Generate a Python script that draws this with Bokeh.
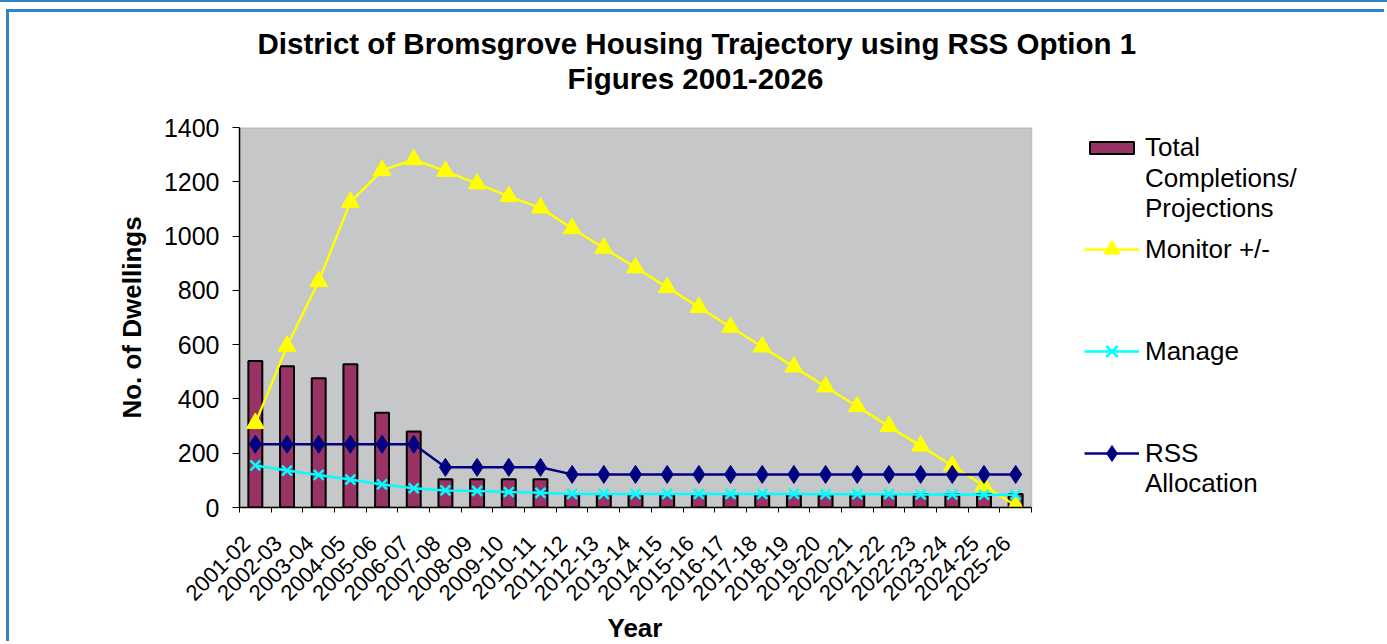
import math
from bokeh.plotting import figure
from bokeh.models import (FixedTicker, Legend, LegendItem, Title, Div, Range1d,
                          BoxAnnotation)
from bokeh.layouts import column
from bokeh.embed import file_html
from bokeh.resources import INLINE

categories = ["2001-02", "2002-03", "2003-04", "2004-05", "2005-06", "2006-07",
              "2007-08", "2008-09", "2009-10", "2010-11", "2011-12", "2012-13",
              "2013-14", "2014-15", "2015-16", "2016-17", "2017-18", "2018-19",
              "2019-20", "2020-21", "2021-22", "2022-23", "2023-24", "2024-25",
              "2025-26"]
completions = [540, 520, 476, 528, 349, 280, 104, 104, 104, 104, 50, 50, 50,
               50, 50, 50, 50, 50, 50, 50, 50, 50, 50, 50, 50]
monitor = [310, 595, 833, 1125, 1242, 1282, 1239, 1193, 1146, 1104, 1028, 956,
           884, 811, 738, 665, 592, 518, 445, 372, 299, 227, 154, 80, 7]
manage = [155, 136, 120, 103, 85, 71, 63, 61, 57, 54, 50, 50, 50, 50, 50, 50,
          50, 50, 49, 49, 49, 48, 48, 47, 47]
rss = [233, 233, 233, 233, 233, 233, 148, 148, 148, 148, 122, 122, 122, 122,
       122, 122, 122, 122, 122, 122, 122, 122, 122, 122, 122]
y_ticks = [0, 200, 400, 600, 800, 1000, 1200, 1400]
Y_MAX = 1400

FONT = "Liberation Sans"
n = len(categories)
xs = [i + 0.5 for i in range(n)]
LABEL_SHIFT = 0.28   # rotated labels end just left of the category centre
label_pos = [x - LABEL_SHIFT for x in xs]

FIG_W, FIG_H = 1378, 632
BORDER_LEFT = 230
PLOT_W = 792          # width of the grey plotting area
FRAME_W = FIG_W - BORDER_LEFT
x_end = n * FRAME_W / PLOT_W   # frame extends right so the legend can live in it

p = figure(width=FIG_W, height=FIG_H, output_backend="svg", toolbar_location=None,
           x_range=Range1d(0, x_end), y_range=Range1d(0, Y_MAX),
           min_border_left=BORDER_LEFT, min_border_right=0, min_border_top=115,
           min_border_bottom=137, background_fill_color="white",
           border_fill_color="white", title=None,
           margin=(7, 0, 0, 6),
           styles={"border-top": "3px solid #2E86C8", "border-left": "3px solid #2E86C8"})

p.xgrid.visible = False
p.ygrid.visible = False
p.outline_line_color = None

plot_area = BoxAnnotation(left=0, right=n, bottom=0, top=Y_MAX,
                          fill_color="#C6C7C8", fill_alpha=1,
                          line_color="#808080", line_width=2, level="underlay")
p.add_layout(plot_area)

bars = p.vbar(x=xs, top=completions, width=0.44, fill_color="#993366",
              line_color="black", line_width=2)
l_mon = p.line(xs, monitor, line_color="#FFFF00", line_width=2.5)
m_mon = p.scatter(xs, monitor, marker="triangle", size=18, fill_color="#FFFF00",
                  line_color="#FFFF00")
l_man = p.line(xs, manage, line_color="#00FFFF", line_width=2.5)
m_man = p.scatter(xs, manage, marker="x", size=14, line_color="#00FFFF", line_width=2.5)
l_rss = p.line(xs, rss, line_color="#000080", line_width=2.5)
m_rss = p.scatter(xs, rss, marker="diamond", size=18, fill_color="#000080",
                  line_color="#000080")

# x axis
xa = p.xaxis[0]
xa.bounds = (0, n)
xa.ticker = FixedTicker(ticks=label_pos, minor_ticks=list(range(n + 1)))
xa.major_label_overrides = {x: c for x, c in zip(label_pos, categories)}
xa.major_tick_out = 0
xa.major_tick_in = 0
xa.minor_tick_out = 5
xa.minor_tick_in = 0
xa.minor_tick_line_color = "black"
xa.major_label_orientation = math.pi / 4
xa.major_label_text_font = FONT
xa.major_label_text_font_size = "22px"
xa.major_label_text_color = "black"
xa.major_label_standoff = 27
xa.axis_line_color = "black"
xa.axis_line_width = 1.5

ya = p.yaxis[0]
ya.ticker = FixedTicker(ticks=y_ticks)
ya.major_tick_out = 7
ya.major_tick_in = 0
ya.minor_tick_out = 0
ya.minor_tick_in = 0
ya.major_tick_line_color = "black"
ya.major_label_text_font = FONT
ya.major_label_text_font_size = "25px"
ya.major_label_text_color = "black"
ya.major_label_standoff = 13
ya.axis_line_color = "black"
ya.axis_line_width = 1.5
ya.axis_label = "No. of Dwellings"
ya.axis_label_text_font = FONT
ya.axis_label_text_font_size = "26px"
ya.axis_label_text_font_style = "bold"
ya.axis_label_text_color = "black"
ya.axis_label_standoff = 14

# x-axis title placed under the grey plotting area
x_title = Title(text="Year", align="left", offset=368, text_font=FONT,
                text_font_size="26px", text_font_style="bold",
                text_color="black", standoff=0)
p.add_layout(x_title, "below")

# titles: spacer nearest the plot, then line 2, then line 1
spacer = Title(text=" ", text_font_size="2px", standoff=29)
t2 = Title(text="Figures 2001-2026", align="left", offset=328,
           text_font=FONT, text_font_size="29.5px", text_font_style="bold",
           text_color="black", standoff=0)
t1 = Title(text="District of Bromsgrove Housing Trajectory using RSS Option 1",
           align="left", offset=18, text_font=FONT, text_font_size="29.5px",
           text_font_style="bold", text_color="black", standoff=0)
p.add_layout(spacer, "above")
p.add_layout(t2, "above")
p.add_layout(t1, "above")

# legend rows: (label, renderers, glyph height, row centre below frame top)
PLOT_H = 380
rows = [
    ("Total", [bars], 15, 20),
    ("Completions/", [], 40, 51),
    ("Projections", [], 40, 81),
    ("Monitor +/-", [l_mon, m_mon], 40, 122),
    ("Manage", [l_man, m_man], 40, 224),
    ("RSS", [l_rss, m_rss], 40, 326),
    ("Allocation", [], 40, 356),
]
for label, rends, gh, cy in rows:
    lg = Legend(items=[LegendItem(label=label, renderers=rends)],
                location=(845, PLOT_H - cy - 20),
                glyph_width=55, glyph_height=gh, label_height=40,
                label_standoff=6, padding=0, margin=0, spacing=0,
                border_line_color=None, background_fill_alpha=0,
                label_text_font=FONT, label_text_font_size="26px",
                label_text_color="black")
    p.add_layout(lg, "center")

top_line = Div(width=1387, height=2, margin=0,
               styles={"background-color": "#2E86C8"})
layout = column(top_line, p, spacing=0, margin=0)

open("out.html", "w").write(file_html(layout, INLINE))
